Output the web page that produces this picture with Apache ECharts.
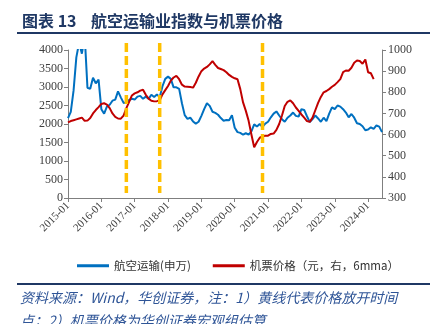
<!DOCTYPE html>
<html>
<head>
<meta charset="utf-8">
<script src="https://cdn.jsdelivr.net/npm/echarts@6/dist/echarts.min.js"></script>
<style>
  html, body { margin: 0; padding: 0; background: #fff; }
  #chart { width: 444px; height: 324px; }
</style>
</head>
<body>
<div id="chart"></div>
<script>
// Monthly categories, 2015-01 .. 2024-06
const months = [];
for (let y = 2015; y <= 2024; y++) {
  for (let m = 1; m <= 12; m++) {
    if (y === 2024 && m > 6) break;
    months.push(y + '-' + (m < 10 ? '0' + m : m));
  }
}

// 航空运输(申万) index, left axis
const airIndex = [
  2160, 2330, 2900, 3800, 4200, 3900, 4400, 2980, 2950, 3250, 3100, 3200,
  2400, 2280, 2470, 2520, 2630, 2660, 2880, 2720, 2570, 2580, 2650, 2680,
  2660, 2740, 2760, 2680, 2740, 2680, 2790, 2730, 2800, 2720, 3020, 3220,
  3280, 3220, 2990, 2990, 2950, 2560, 2240, 2140, 2170, 2070, 2010, 2060,
  2220, 2400, 2560, 2490, 2330, 2300, 2250, 2160, 2090, 2110, 2100, 2240,
  1900, 1780, 1760, 1710, 1750, 1710, 1800, 1990, 1930, 2000, 1920, 2010,
  2060, 2180, 2280, 2340, 2230, 2130, 2060, 2170, 2230, 2310, 2220, 2200,
  2400, 2380, 2210, 2050, 2130, 2230, 2150, 2060, 2170, 2080, 2280, 2450,
  2400, 2500, 2470, 2400, 2310, 2180, 2270, 2170, 2020, 2000, 1940, 1830,
  1850, 1910, 1870, 1960, 1930, 1780
];

// 机票价格 (元, 6mma), right axis
const ticketPrice = [
  658, 664, 668, 672, 676, 680, 665, 666, 678, 700, 716, 730,
  745, 748, 742, 725, 700, 684, 676, 675, 690, 725, 755, 785,
  795, 800, 808, 812, 788, 770, 760, 757, 758, 762, 790, 810,
  830, 855, 870, 878, 862, 836, 827, 826, 825, 822, 845, 875,
  900, 912, 920, 932, 947, 930, 915, 910, 905, 895, 882, 873,
  866, 862, 815, 752, 712, 665, 600, 540, 565, 585, 592, 594,
  595, 603, 605, 622, 650, 690, 735, 755, 762, 748, 728, 712,
  695, 680, 664, 660, 680, 715, 750, 778, 800, 806, 815, 826,
  835, 848, 862, 895, 903, 902, 916, 940, 950, 948, 935, 955,
  895, 890, 862, null, null, null
];

// Months when fares were liberalised (yellow dashed markers)
const releaseMonths = ['2016-10', '2017-10', '2020-11'];
const markerTop = 4190;
const markerBottom = 135;

const leftTicks = { min: 0, max: 4000, interval: 500 };
const rightTicks = { min: 300, max: 1000, interval: 100 };

const serifFont = '"Liberation Serif", "DejaVu Serif", serif';
const cjkFont = '"Noto Sans CJK SC", sans-serif';
const navy = '#1F3864';
const plainNumber = function (v) { return String(v); };

const chart = echarts.init(document.getElementById('chart'), null, { renderer: 'canvas' });

const markerSeries = releaseMonths.map(function (m) {
  return {
    name: 'release-' + m,
    type: 'line',
    yAxisIndex: 0,
    data: [[m, markerTop], [m, markerBottom]],
    symbol: 'none',
    clip: false,
    silent: true,
    z: 5,
    lineStyle: { color: '#FFC000', width: 3.5, type: [9, 4] }
  };
});

chart.setOption({
  animation: false,
  backgroundColor: '#fff',
  title: {
    text: '图表 13    航空运输业指数与机票价格',
    left: 17,
    top: 8,
    textStyle: { fontFamily: cjkFont, fontSize: 16, fontWeight: 'bold', color: navy }
  },
  grid: { left: 68, right: 62, top: 50, bottom: 126, containLabel: false },
  legend: {
    data: ['航空运输(申万)', '机票价格（元，右，6mma）'],
    left: 72,
    top: 255,
    icon: 'rect',
    itemWidth: 32,
    itemHeight: 3,
    itemGap: 22,
    textStyle: { fontFamily: cjkFont, fontSize: 11.5, color: '#333' }
  },
  xAxis: {
    type: 'category',
    data: months,
    boundaryGap: false,
    axisLine: { lineStyle: { color: '#7f7f7f', width: 1 } },
    axisTick: { interval: 11, length: 4, lineStyle: { color: '#7f7f7f' } },
    axisLabel: {
      interval: 11, rotate: 45, margin: 6,
      fontFamily: serifFont, fontSize: 11, color: '#404040'
    },
    splitLine: { show: false }
  },
  yAxis: [
    {
      type: 'value',
      min: leftTicks.min, max: leftTicks.max, interval: leftTicks.interval,
      axisLine: { show: true, lineStyle: { color: '#7f7f7f' } },
      axisTick: { show: true, length: 4, lineStyle: { color: '#7f7f7f' } },
      axisLabel: { formatter: plainNumber, fontFamily: serifFont, fontSize: 12, color: '#404040', margin: 5 },
      splitLine: { show: false }
    },
    {
      type: 'value',
      position: 'right',
      min: rightTicks.min, max: rightTicks.max, interval: rightTicks.interval,
      axisLine: { show: true, lineStyle: { color: '#7f7f7f' } },
      axisTick: { show: true, length: 4, lineStyle: { color: '#7f7f7f' } },
      axisLabel: { formatter: plainNumber, fontFamily: serifFont, fontSize: 12, color: '#404040', margin: 6 },
      splitLine: { show: false }
    }
  ],
  series: [
    {
      name: '航空运输(申万)',
      type: 'line',
      yAxisIndex: 0,
      data: airIndex,
      symbol: 'none',
      z: 3,
      lineStyle: { color: '#0070C0', width: 2 },
      itemStyle: { color: '#0070C0' }
    },
    {
      name: '机票价格（元，右，6mma）',
      type: 'line',
      yAxisIndex: 1,
      data: ticketPrice,
      symbol: 'none',
      z: 4,
      lineStyle: { color: '#C00000', width: 2 },
      itemStyle: { color: '#C00000' }
    }
  ].concat(markerSeries),
  graphic: [
    {
      type: 'rect',
      shape: { x: 17, y: 32, width: 413, height: 2 },
      style: { fill: navy }
    },
    {
      type: 'rect',
      shape: { x: 17, y: 283, width: 413, height: 2 },
      style: { fill: navy }
    },
    {
      type: 'text',
      left: 20,
      top: 291,
      style: {
        text: '资料来源：Wind，华创证券，注：1）黄线代表价格放开时间',
        font: 'italic 14px "Noto Sans CJK SC", sans-serif',
        fill: '#2F5597'
      }
    },
    {
      type: 'text',
      left: 20,
      top: 314,
      style: {
        text: '点；2）机票价格为华创证券宏观组估算',
        font: 'italic 14px "Noto Sans CJK SC", sans-serif',
        fill: '#2F5597'
      }
    }
  ]
});
</script>
</body>
</html>
